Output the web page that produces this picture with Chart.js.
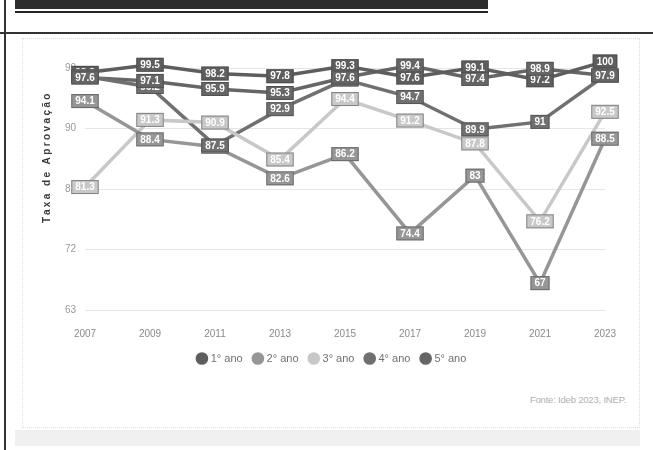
<!DOCTYPE html>
<html>
<head>
<meta charset="utf-8">
<script src="https://cdn.jsdelivr.net/npm/chart.js@4/dist/chart.umd.min.js"></script>
<style>
  html, body { margin:0; padding:0; background:#fff; }
  body { width:653px; height:450px; position:relative; overflow:hidden; font-family:"Liberation Sans", Arial, sans-serif; }
  #topbar { position:absolute; left:15px; top:0; width:473px; height:9px; background:#2e2e2e; }
  #topline { position:absolute; left:15px; top:11px; width:473px; height:2px; background:#222; }
  #hline { position:absolute; left:0; top:32px; width:653px; height:2px; background:#333; }
  #vline { position:absolute; left:4px; top:0; width:2px; height:450px; background:#333; }
  #box { position:absolute; left:22px; top:38px; width:618px; height:390px; border:1px dotted #dcdcdc; box-sizing:border-box; }
  #band { position:absolute; left:15px; top:430px; width:625px; height:16px; background:#f0f0f0; }
  #fonte { position:absolute; right:27px; top:394px; font-size:9.5px; color:#b0b0b0; letter-spacing:-0.2px; }
  #wrap { position:absolute; left:0; top:0; width:653px; height:450px; }
</style>
</head>
<body>
<div id="topbar"></div>
<div id="topline"></div>
<div id="hline"></div>
<div id="vline"></div>
<div id="box"></div>
<div id="band"></div>
<div id="fonte">Fonte: Ideb 2023, INEP.</div>
<div id="wrap"><canvas id="c" width="653" height="450"></canvas></div>
<script>
const anos = ['2007','2009','2011','2013','2015','2017','2019','2021','2023'];
const serieNomes = ['1° ano','2° ano','3° ano','4° ano','5° ano'];
const ano1 = [98.3, 99.5, 98.2, 97.8, 99.3, 97.6, 99.1, 97.2, 100];
const ano2 = [94.1, 88.4, 87.3, 82.6, 86.2, 74.4, 83, 67, 88.5];
const ano3 = [81.3, 91.3, 90.9, 85.4, 94.4, 91.2, 87.8, 76.2, 92.5];
const ano4 = [97.8, 96.2, 87.5, 92.9, 97.3, 94.7, 89.9, 91, 97.9];
const ano5 = [97.6, 97.1, 95.9, 95.3, 97.6, 99.4, 97.4, 98.9, 97.9];
const yTicks = [63, 72, 81, 90, 99];
const tituloY = 'Taxa de Aprovação';
const cores = ['#5e5e5e', '#969696', '#c8c8c8', '#707070', '#666666'];
const valores = [ano1, ano2, ano3, ano4, ano5];

const FONT = '"Liberation Sans", Arial, sans-serif';

const labelPlugin = {
  id: 'boxLabels',
  afterDatasetsDraw(chart) {
    const ctx = chart.ctx;
    ctx.save();
    ctx.font = 'bold 10px ' + FONT;
    ctx.textAlign = 'center';
    ctx.textBaseline = 'middle';
    chart.data.datasets.forEach((ds, i) => {
      const meta = chart.getDatasetMeta(i);
      if (meta.hidden) return;
      meta.data.forEach((pt, j) => {
        const v = ds.data[j];
        const txt = Number.isInteger(v) ? String(v) : v.toFixed(1);
        const w = ctx.measureText(txt).width + 8;
        const h = 14;
        const x = pt.x, y = pt.y;
        ctx.fillStyle = ds.borderColor;
        ctx.fillRect(x - w/2, y - h/2, w, h);
        ctx.lineWidth = 1;
        ctx.strokeStyle = 'rgba(60,60,60,0.5)';
        ctx.strokeRect(x - w/2 + 0.5, y - h/2 + 0.5, w - 1, h - 1);
        ctx.fillStyle = '#ffffff';
        ctx.fillText(txt, x, y + 0.5);
      });
    });
    ctx.restore();
  }
};

// y-axis title with letter spacing, placed left of the y scale
const yTitlePlugin = {
  id: 'yTitle',
  beforeDatasetsDraw(chart) {
    const ctx = chart.ctx;
    const ys = chart.scales.y;
    const ca = chart.chartArea;
    ctx.save();
    ctx.translate(ys.left - 13, (ca.top + ca.bottom) / 2 - 22);
    ctx.rotate(-Math.PI / 2);
    ctx.font = 'bold 10px ' + FONT;
    if ('letterSpacing' in ctx) ctx.letterSpacing = '2.4px';
    ctx.fillStyle = '#3a3a3a';
    ctx.textAlign = 'center';
    ctx.textBaseline = 'middle';
    ctx.fillText(tituloY, 0, 0);
    ctx.restore();
  }
};

const datasets = serieNomes.map((nome, i) => ({
  label: nome,
  data: valores[i],
  borderColor: cores[i],
  backgroundColor: cores[i],
  borderWidth: 3.5,
  pointRadius: 0,
  pointHoverRadius: 0,
  tension: 0,
  clip: false
}));

new Chart(document.getElementById('c'), {
  type: 'line',
  data: { labels: anos, datasets },
  options: {
    responsive: false,
    animation: false,
    layout: { padding: { left: 60, right: 48, top: 48, bottom: 76 } },
    plugins: {
      tooltip: { enabled: false },
      legend: {
        position: 'bottom',
        labels: {
          usePointStyle: true,
          pointStyle: 'circle',
          boxWidth: 6.5,
          boxHeight: 6.5,
          padding: 12,
          color: '#707070',
          font: { family: FONT, size: 11 }
        }
      }
    },
    scales: {
      x: {
        offset: false,
        grid: { display: false },
        border: { display: false },
        ticks: { color: '#8a8a8a', padding: 10, font: { family: FONT, size: 10 } },
        afterFit(scale) { scale.height = 31; }
      },
      y: {
        min: 63,
        max: 102,
        afterBuildTicks(scale) { scale.ticks = yTicks.map(v => ({ value: v })); },
        afterFit(scale) { scale.width = 25; },
        grid: { color: '#e6e6e6', drawTicks: false, lineWidth: 1 },
        border: { display: false },
        ticks: { color: '#9a9a9a', padding: 9, font: { family: FONT, size: 10 } },
        title: { display: false, text: tituloY }
      }
    }
  },
  plugins: [labelPlugin, yTitlePlugin]
});
</script>
</body>
</html>
